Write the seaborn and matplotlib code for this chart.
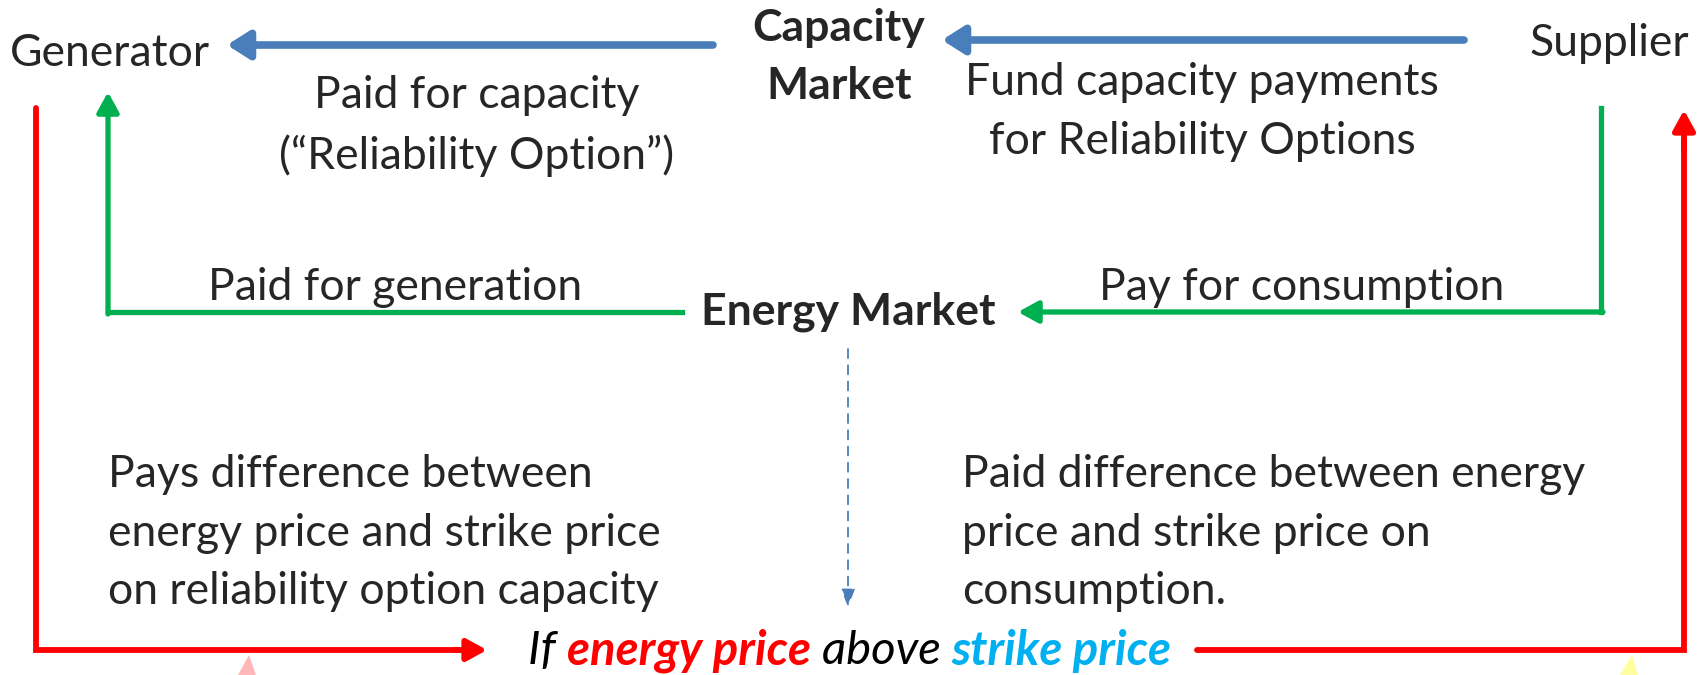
import matplotlib.pyplot as plt
import seaborn as sns
from matplotlib.patches import Polygon

sns.set_theme(style="white")
plt.rcParams['font.family'] = ['Lato', 'DejaVu Sans']

# node labels
parties = ["Generator", "Supplier"]
markets = ["Capacity\nMarket", "Energy Market"]

# flow labels
capacity_flows = ["Paid for capacity\n(\u201cReliability Option\u201d)",
                  "Fund capacity payments\nfor Reliability Options"]
energy_flows = ["Paid for generation", "Pay for consumption"]
difference_flows = ["Pays difference between\nenergy price and strike price\non reliability option capacity",
                    "Paid difference between energy\nprice and strike price on\nconsumption."]
condition = [("If ", "black", "normal"), ("energy price", "#FF0000", "bold"),
             (" above ", "black", "normal"), ("strike price", "#00B0F0", "bold")]

BLUE = "#4A7EBB"
GREEN = "#00B050"
RED = "#FF0000"

fig = plt.figure(figsize=(16.98, 6.75), dpi=100)
ax = fig.add_axes([0, 0, 1, 1])
ax.set_xlim(0, 1698)
ax.set_ylim(675, 0)
ax.axis("off")

FS = 32


def arrow(x0, y0, x1, y1, color, lw, hl, hw, ls="-"):
    ax.annotate("", xy=(x1, y1), xytext=(x0, y0),
                arrowprops=dict(arrowstyle=f"-|>,head_length={hl},head_width={hw}",
                                color=color, lw=lw, linestyle=ls,
                                shrinkA=0, shrinkB=0))


# nodes
ax.text(110, 53, parties[0], fontsize=FS, ha="center", va="center")
ax.text(1609, 43, parties[1], fontsize=FS, ha="center", va="center")
ax.text(839, 57, markets[0], fontsize=FS, ha="center", va="center",
        fontweight="bold", linespacing=1.55)
ax.text(848, 312, markets[1], fontsize=FS, ha="center", va="center",
        fontweight="bold")

# capacity payments (blue)
arrow(713, 45, 227, 45, BLUE, 5.5, 1.1, 0.7)
arrow(1464, 40, 942, 40, BLUE, 5.5, 1.1, 0.7)
ax.text(477, 126, capacity_flows[0], fontsize=FS, ha="center", va="center",
        linespacing=1.52)
ax.text(1202, 112, capacity_flows[1], fontsize=FS, ha="center", va="center",
        linespacing=1.52)

# energy payments (green)
ax.plot([682, 108], [312, 312], color=GREEN, lw=3.8, solid_capstyle="projecting")
arrow(108, 314, 108, 92, GREEN, 3.8, 1.0, 0.55)
ax.plot([1601, 1601], [108, 312], color=GREEN, lw=3.8, solid_capstyle="projecting")
arrow(1603, 312, 1018, 312, GREEN, 3.8, 1.0, 0.55)
ax.text(395, 287, energy_flows[0], fontsize=FS, ha="center", va="center")
ax.text(1302, 287, energy_flows[1], fontsize=FS, ha="center", va="center")

# dashed link from energy market
arrow(848, 349, 848, 607, BLUE, 1.3, 0.9, 0.35, ls=(0, (5, 4)))

# difference payments (red)
ax.plot([36, 36, 460], [108, 650, 650], color=RED, lw=4.2, solid_joinstyle="miter")
arrow(455, 650, 487, 650, RED, 4.2, 1.0, 0.55)
ax.plot([1197, 1684, 1684], [650, 650, 140], color=RED, lw=4.2, solid_joinstyle="miter")
arrow(1684, 150, 1684, 110, RED, 4.2, 1.0, 0.55)
ax.text(108, 533, difference_flows[0], fontsize=FS, ha="left", va="center",
        linespacing=1.53)
ax.text(962, 533, difference_flows[1], fontsize=FS, ha="left", va="center",
        linespacing=1.53)

# condition text, built piece by piece
fig.canvas.draw()
renderer = fig.canvas.get_renderer()
x = 528
inv = ax.transData.inverted()
for txt, col, wt in condition:
    t = ax.text(x, 651, txt, fontsize=34, ha="left", va="center", color=col,
                fontweight=wt, fontstyle="italic")
    bb = t.get_window_extent(renderer)
    x = inv.transform((bb.x1, bb.y0))[0]

# faint partial shapes at the bottom edge
ax.add_patch(Polygon([[238, 675], [249, 655], [256, 675]], closed=True,
                     color="#FFB8B8", lw=0))
ax.add_patch(Polygon([[1620, 675], [1632, 655], [1638, 675]], closed=True,
                     color="#FFFFA0", lw=0))

fig.savefig("out.png", dpi=100)
